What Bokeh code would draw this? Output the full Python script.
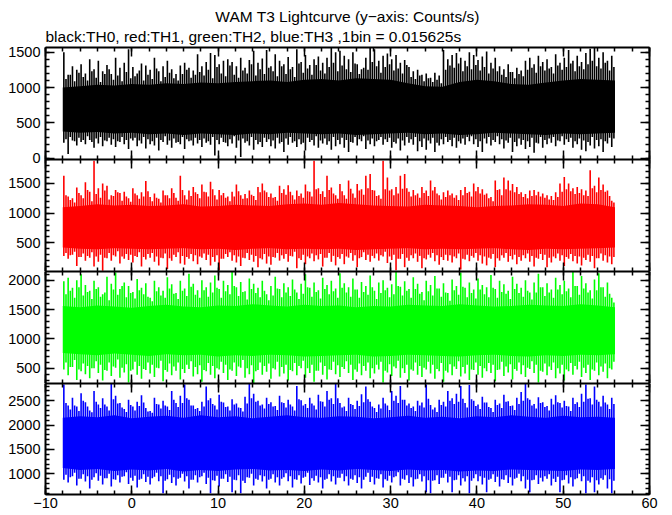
import numpy as np
from bokeh.plotting import figure
from bokeh.layouts import column
from bokeh.models import Range1d, LinearAxis, SingleIntervalTicker, Title, ColumnDataSource
from bokeh.embed import file_html
from bokeh.resources import INLINE

# ---------------- data ----------------
t_first = -8.0          # first bin time (s)
spike_step = 0.5        # extremes read every 0.5 s (two readings per step)
core_step = 2.0         # dense-band edges read every 2 s

x_tick_interval = 10
y_tick_interval = 500

panel_names = ["TH0", "TH1", "TH2", "TH3"]
panel_colors = ["#000000", "#ff0000", "#00ff00", "#0000ff"]
y_low = [-17, 17, 241, 576]
y_high = [1566, 1903, 2148, 2852]

# TH0 (black)
th0_hi = [1500, 1180, 1300, 1250, 1330, 1200, 1400, 1260, 1380, 1230, 1320, 1190, 1420, 1280, 1350, 1540,
          1290, 1200, 1340, 1310, 1250, 1420, 1230, 1300, 1380, 1260, 1190, 1310, 1350, 1280, 1240, 1470,
          1300, 1360, 1490, 1460, 1330, 1380, 1400, 1360, 1300, 1420, 1280, 1390, 1520, 1350, 1410, 1530,
          1300, 1470, 1380, 1330, 1430, 1290, 1540, 1360, 1460, 1320, 1400, 1440, 1350, 1420, 1566, 1500,
          1520, 1450, 1400, 1500, 1330, 1260, 1420, 1566, 1540, 1380, 1450, 1480, 1400, 1460, 1350, 1390,
          1290, 1230, 1250, 1180, 1200, 1140, 1210, 1170, 1530, 1400, 1460, 1490, 1420, 1380, 1500, 1460,
          1390, 1440, 1510, 1350, 1420, 1300, 1260, 1330, 1220, 1280, 1240, 1380, 1420, 1330, 1450, 1360,
          1400, 1290, 1470, 1350, 1420, 1530, 1380, 1450, 1360, 1490, 1550, 1566, 1420, 1500, 1380, 1450]
th0_hi_mid = [1120, 1180, 1090, 1210, 1150, 1100, 1230, 1140, 1080, 1190, 1260, 1110, 1170, 1090, 1220, 1130,
              1160, 1240, 1100, 1180, 1120, 1270, 1090, 1150, 1210, 1130, 1100, 1190, 1250, 1140, 1180, 1220,
              1170, 1250, 1130, 1290, 1200, 1160, 1310, 1180, 1140, 1240, 1200, 1330, 1170, 1260, 1190, 1280,
              1230, 1160, 1300, 1190, 1260, 1150, 1340, 1210, 1270, 1180, 1320, 1240, 1200, 1290, 1350, 1230,
              1310, 1260, 1220, 1340, 1190, 1280, 1250, 1360, 1300, 1210, 1290, 1330, 1240, 1270, 1200, 1320,
              1150, 1120, 1170, 1090, 1130, 1080, 1110, 1060, 1250, 1310, 1280, 1340, 1230, 1300, 1260, 1320,
              1240, 1290, 1200, 1270, 1230, 1180, 1150, 1220, 1130, 1190, 1160, 1250, 1280, 1210, 1300, 1240,
              1270, 1200, 1310, 1250, 1290, 1340, 1230, 1300, 1260, 1330, 1380, 1300, 1270, 1350, 1240, 1290]
th0_lo = [220, 60, 250, 180, 230, 200, 260, 150, 210, 170, 240, 190, 160, 230, 200, 130,
          250, 170, 210, 140, 200, 180, 110, 230, 190, 150, 220, 200, 130, 240, 180, 210,
          160, 220, 190, 40, 200, 230, 170, 210, 150, 20, 220, 180, 120, 200, 160, 230,
          170, 140, 210, 90, 190, 220, 160, 200, 110, 230, 180, 150, 210, 190, 120, 170,
          200, 150, 90, 220, 180, 240, 130, 200, 170, 260, 190, 230, 150, 210, 110, 180,
          220, 190, 100, 160, 120, 210, 90, 180, 200, 230, 170, 150, 210, 190, 240, 200,
          160, 90, 210, 180, 230, 200, 140, 220, 90, 170, 190, 130, 160, 80, 210, 150,
          200, 220, 170, 240, 190, 230, 150, 200, 120, 100, 180, 140, 170, 90, 210, 160]
th0_lo_mid = [270, 300, 240, 290, 260, 310, 230, 280, 300, 250, 290, 270, 240, 300, 260, 280,
              290, 250, 300, 270, 240, 290, 260, 310, 250, 280, 230, 300, 270, 250, 290, 260,
              280, 240, 300, 260, 290, 220, 270, 310, 250, 280, 240, 300, 260, 230, 290, 270,
              250, 290, 230, 280, 300, 240, 270, 220, 290, 260, 310, 250, 280, 240, 300, 260,
              290, 260, 230, 300, 270, 310, 250, 280, 240, 300, 270, 290, 230, 280, 250, 300,
              270, 300, 240, 280, 250, 290, 220, 270, 300, 260, 290, 240, 280, 300, 310, 270,
              240, 280, 300, 260, 310, 270, 250, 290, 230, 280, 260, 240, 290, 220, 300, 260,
              280, 300, 250, 310, 270, 290, 240, 280, 250, 230, 300, 260, 270, 240, 290, 280]
th0_core_hi = [1000, 1020, 1040, 1030, 1050, 1040, 1060, 1050, 1070, 1060, 1080, 1090, 1100, 1080, 1110, 1120,
               1100, 1130, 1120, 1110, 1060, 1020, 1010, 1080, 1110, 1090, 1050, 1040, 1070, 1100, 1120, 1110, 1100]
th0_core_lo = [380, 360, 370, 350, 360, 340, 350, 330, 350, 340, 330, 350, 340, 360, 350, 340,
               350, 330, 340, 350, 360, 340, 350, 330, 340, 360, 350, 340, 330, 350, 340, 350, 360]

# TH1 (red)
th1_hi = [1630, 1280, 1250, 1430, 1300, 1520, 1360, 1880, 1420, 1500, 1460, 1300, 1390, 1340, 1360, 1250,
          1420, 1300, 1350, 1540, 1270, 1330, 1240, 1380, 1300, 1420, 1260, 1630, 1300, 1380, 1440, 1320,
          1480, 1350, 1530, 1300, 1390, 1340, 1280, 1360, 1480, 1300, 1320, 1380, 1290, 1440, 1500, 1350,
          1330, 1270, 1460, 1400, 1470, 1300, 1380, 1330, 1480, 1360, 1880, 1420, 1370, 1630, 1430, 1300,
          1490, 1300, 1550, 1330, 1490, 1400, 1630, 1660, 1380, 1300, 1880, 1600, 1400, 1440, 1630, 1660,
          1360, 1390, 1330, 1440, 1380, 1550, 1440, 1300, 1350, 1380, 1330, 1300, 1390, 1440, 1360, 1500,
          1440, 1400, 1330, 1270, 1550, 1400, 1600, 1550, 1490, 1440, 1350, 1320, 1380, 1390, 1360, 1330,
          1300, 1290, 1350, 1500, 1610, 1500, 1420, 1440, 1400, 1380, 1720, 1460, 1600, 1480, 1380, 1210]
th1_hi_mid = [1300, 1220, 1180, 1340, 1250, 1390, 1200, 1320, 1260, 1380, 1230, 1290, 1350, 1210, 1280, 1190,
              1330, 1240, 1280, 1370, 1200, 1260, 1180, 1300, 1250, 1340, 1210, 1390, 1230, 1290, 1350, 1250,
              1360, 1280, 1400, 1230, 1300, 1260, 1200, 1280, 1370, 1240, 1250, 1310, 1220, 1350, 1380, 1270,
              1260, 1210, 1340, 1310, 1360, 1230, 1290, 1260, 1370, 1280, 1400, 1320, 1270, 1390, 1330, 1240,
              1370, 1240, 1410, 1260, 1380, 1310, 1420, 1390, 1290, 1240, 1400, 1380, 1300, 1330, 1410, 1420,
              1280, 1300, 1260, 1340, 1290, 1380, 1330, 1230, 1270, 1300, 1260, 1220, 1300, 1340, 1280, 1370,
              1330, 1310, 1250, 1200, 1390, 1300, 1400, 1380, 1350, 1320, 1270, 1250, 1290, 1300, 1280, 1260,
              1230, 1220, 1270, 1360, 1400, 1370, 1320, 1340, 1300, 1290, 1420, 1350, 1390, 1360, 1290, 1180]
th1_lo = [280, 230, 300, 110, 260, 200, 250, 100, 180, 30, 240, 200, 270, 150, 230, 210,
          170, 260, 100, 220, 250, 180, 120, 240, 60, 200, 260, 150, 130, 230, 190, 140,
          250, 210, 120, 180, 40, 230, 260, 200, 170, 110, 240, 210, 180, 90, 220, 150,
          130, 250, 200, 230, 180, 270, 70, 210, 140, 240, 190, 220, 100, 250, 180, 120,
          230, 140, 250, 200, 90, 260, 210, 180, 240, 200, 270, 160, 210, 40, 230, 90,
          200, 240, 180, 70, 220, 250, 190, 130, 210, 200, 170, 240, 50, 220, 190, 250,
          200, 150, 120, 230, 90, 200, 250, 180, 220, 140, 200, 240, 180, 100, 230, 210,
          90, 170, 240, 200, 110, 230, 190, 150, 120, 210, 180, 70, 240, 200, 170, 140]
th1_lo_mid = [330, 290, 350, 260, 320, 280, 340, 270, 300, 250, 330, 290, 360, 270, 310, 300,
              280, 340, 260, 310, 330, 270, 250, 320, 240, 300, 340, 280, 260, 310, 290, 270,
              320, 300, 260, 290, 230, 310, 340, 290, 270, 250, 330, 300, 280, 240, 310, 270,
              260, 330, 290, 310, 280, 350, 240, 300, 270, 320, 290, 310, 250, 330, 280, 260,
              310, 270, 330, 290, 240, 340, 300, 280, 320, 290, 350, 270, 300, 230, 310, 250,
              290, 320, 280, 240, 300, 330, 290, 260, 300, 290, 270, 320, 230, 300, 280, 330,
              290, 270, 250, 310, 240, 290, 330, 280, 300, 260, 290, 320, 280, 250, 310, 300,
              250, 270, 320, 290, 260, 310, 280, 270, 250, 300, 280, 240, 320, 290, 270, 260]
th1_core_hi = [1100, 1120, 1150, 1130, 1140, 1120, 1130, 1150, 1110, 1120, 1140, 1130, 1120, 1150, 1160, 1140,
               1170, 1150, 1130, 1120, 1110, 1140, 1130, 1120, 1100, 1120, 1130, 1150, 1140, 1120, 1160, 1150, 1100]
th1_core_lo = [420, 400, 390, 410, 400, 390, 400, 410, 390, 400, 380, 400, 410, 390, 400, 390,
               400, 380, 390, 400, 410, 390, 400, 390, 400, 410, 390, 380, 400, 390, 400, 410, 420]

# TH2 (green)
th2_hi = [1980, 2040, 1870, 2000, 2100, 1920, 1820, 1990, 1880, 1760, 2060, 1940, 2130, 1850, 1960, 1900,
          1800, 2020, 1870, 1950, 1700, 1990, 1880, 1820, 2050, 1930, 1780, 1990, 1860, 2110, 1940, 1830,
          2000, 1880, 1960, 2080, 1850, 1990, 1920, 2140, 1880, 1970, 1810, 2030, 1940, 1870, 1990, 1760,
          1900, 2060, 1850, 1950, 1880, 2010, 1790, 1940, 2100, 1870, 1960, 1830, 2040, 1920, 1990, 1860,
          2120, 1950, 1880, 2030, 1840, 1970, 1900, 2080, 1820, 1960, 2000, 1870, 1930, 2140, 1890, 1980,
          1850, 2050, 1940, 1800, 1990, 1920, 2070, 1860, 1950, 1780, 2010, 1900, 2130, 1870, 1960, 1840,
          2030, 1920, 1880, 2090, 1850, 1990, 1930, 1820, 2060, 1940, 1870, 2000, 1790, 1960, 2110, 1880,
          1950, 1840, 2040, 1920, 1990, 1860, 2140, 1900, 2070, 1950, 1830, 2010, 2120, 1880, 1960, 1700]
th2_hi_mid = [1760, 1820, 1700, 1880, 1740, 1800, 1680, 1850, 1720, 1790, 1660, 1840, 1750, 1900, 1710, 1780,
              1690, 1830, 1760, 1720, 1640, 1810, 1740, 1700, 1860, 1770, 1680, 1820, 1730, 1890, 1750, 1700,
              1830, 1720, 1790, 1870, 1700, 1810, 1760, 1900, 1730, 1800, 1670, 1850, 1780, 1710, 1820, 1660,
              1740, 1860, 1710, 1790, 1730, 1840, 1680, 1770, 1880, 1720, 1800, 1690, 1850, 1760, 1810, 1700,
              1870, 1790, 1720, 1840, 1700, 1800, 1750, 1880, 1680, 1780, 1830, 1710, 1760, 1900, 1740, 1820,
              1700, 1850, 1770, 1660, 1810, 1740, 1860, 1720, 1790, 1650, 1830, 1750, 1890, 1710, 1780, 1690,
              1840, 1760, 1710, 1870, 1700, 1800, 1770, 1680, 1850, 1780, 1720, 1820, 1670, 1790, 1880, 1730,
              1790, 1700, 1840, 1760, 1810, 1710, 1900, 1750, 1860, 1790, 1690, 1830, 1880, 1720, 1770, 1620]
th2_lo = [480, 380, 520, 300, 450, 400, 330, 500, 420, 290, 460, 370, 510, 340, 430, 260,
          480, 390, 320, 470, 410, 350, 500, 280, 440, 380, 460, 310, 420, 490, 360, 400,
          270, 450, 390, 330, 480, 420, 300, 460, 370, 510, 340, 400, 250, 470, 390, 440,
          320, 480, 360, 410, 290, 450, 380, 500, 340, 420, 270, 460, 390, 310, 470, 400,
          350, 490, 420, 300, 440, 380, 460, 330, 410, 480, 260, 430, 370, 500, 340, 420,
          290, 460, 390, 350, 480, 410, 320, 450, 270, 430, 380, 490, 360, 410, 300, 470,
          390, 340, 450, 420, 280, 480, 370, 430, 310, 460, 400, 350, 490, 420, 260, 440,
          380, 470, 330, 410, 290, 450, 390, 480, 350, 420, 300, 460, 380, 440, 330, 480]
th2_lo_mid = [600, 520, 640, 480, 580, 540, 500, 620, 560, 470, 600, 530, 650, 510, 570, 460,
              610, 540, 490, 600, 560, 510, 630, 470, 580, 530, 600, 490, 560, 620, 520, 550,
              470, 590, 540, 500, 610, 560, 480, 600, 530, 640, 500, 550, 450, 600, 540, 580,
              500, 610, 520, 560, 470, 590, 540, 630, 500, 560, 460, 600, 540, 480, 610, 550,
              520, 620, 560, 480, 580, 540, 600, 500, 560, 610, 460, 570, 530, 630, 500, 560,
              480, 600, 540, 510, 610, 560, 490, 590, 460, 570, 530, 620, 520, 560, 480, 600,
              540, 500, 590, 560, 470, 610, 530, 570, 490, 600, 550, 510, 620, 560, 460, 580,
              530, 600, 500, 560, 480, 590, 540, 610, 510, 560, 480, 600, 530, 580, 500, 610]
th2_core_hi = [1560, 1540, 1570, 1550, 1530, 1560, 1580, 1550, 1540, 1570, 1560, 1590, 1570, 1550, 1580, 1560,
               1570, 1540, 1560, 1550, 1580, 1570, 1560, 1590, 1570, 1550, 1560, 1580, 1570, 1560, 1590, 1570, 1540]
th2_core_lo = [760, 740, 720, 750, 730, 710, 740, 720, 730, 700, 720, 710, 730, 720, 700, 710,
               720, 730, 700, 710, 730, 720, 710, 700, 720, 730, 710, 700, 720, 710, 730, 720, 740]

# TH3 (blue)
th3_hi = [2830, 2400, 2560, 2380, 2650, 2470, 2300, 2700, 2420, 2550, 2380, 2840, 2600, 2450, 2330, 2520,
          2380, 2480, 2610, 2350, 2290, 2560, 2420, 2500, 2380, 2700, 2450, 2600, 2830, 2520, 2400, 2350,
          2480, 2790, 2550, 2400, 2620, 2460, 2380, 2530, 2440, 2350, 2580, 2840, 2640, 2500, 2420, 2560,
          2470, 2390, 2600, 2450, 2520, 2380, 2800, 2510, 2430, 2560, 2400, 2620, 2480, 2700, 2550, 2840,
          2450, 2380, 2560, 2410, 2500, 2630, 2790, 2480, 2350, 2420, 2560, 2400, 2700, 2600, 2800, 2520,
          2440, 2380, 2500, 2460, 2830, 2410, 2360, 2520, 2480, 2700, 2550, 2640, 2800, 2450, 2820, 2500,
          2420, 2580, 2460, 2350, 2520, 2440, 2620, 2490, 2400, 2560, 2680, 2840, 2520, 2430, 2570, 2470,
          2390, 2540, 2610, 2450, 2500, 2380, 2560, 2470, 2640, 2830, 2550, 2790, 2480, 2600, 2420, 2560]
th3_hi_mid = [2450, 2320, 2400, 2290, 2500, 2380, 2260, 2480, 2350, 2420, 2300, 2530, 2440, 2360, 2270, 2410,
              2300, 2390, 2460, 2280, 2250, 2430, 2340, 2400, 2310, 2520, 2370, 2450, 2550, 2400, 2330, 2290,
              2380, 2510, 2430, 2320, 2480, 2370, 2300, 2420, 2360, 2280, 2440, 2550, 2480, 2400, 2340, 2430,
              2380, 2310, 2470, 2360, 2420, 2300, 2530, 2400, 2350, 2440, 2320, 2490, 2380, 2520, 2430, 2550,
              2360, 2290, 2430, 2330, 2390, 2470, 2530, 2380, 2270, 2340, 2440, 2310, 2500, 2450, 2520, 2400,
              2350, 2290, 2400, 2360, 2540, 2320, 2270, 2410, 2380, 2500, 2430, 2480, 2540, 2360, 2530, 2390,
              2330, 2460, 2370, 2270, 2410, 2350, 2480, 2390, 2310, 2430, 2500, 2550, 2400, 2340, 2450, 2370,
              2300, 2420, 2470, 2360, 2390, 2290, 2430, 2370, 2480, 2540, 2420, 2520, 2380, 2460, 2330, 2430]
th3_lo = [880, 820, 950, 760, 900, 840, 700, 930, 860, 780, 910, 740, 880, 820, 950, 790,
          860, 720, 900, 830, 780, 940, 850, 600, 890, 810, 760, 920, 840, 700, 880, 820,
          950, 790, 600, 860, 740, 900, 830, 620, 870, 600, 810, 920, 760, 880, 840, 700,
          900, 820, 760, 930, 850, 720, 880, 800, 940, 770, 860, 820, 700, 900, 840, 780,
          920, 850, 760, 880, 810, 700, 940, 830, 780, 900, 720, 860, 820, 950, 760, 880,
          810, 740, 900, 840, 620, 600, 870, 790, 920, 820, 620, 880, 760, 840, 600, 910,
          850, 780, 620, 900, 830, 740, 880, 810, 760, 920, 850, 700, 620, 880, 790, 840,
          900, 760, 830, 620, 880, 800, 740, 910, 850, 600, 820, 620, 780, 880, 700, 600]
th3_lo_mid = [980, 930, 1020, 900, 990, 950, 880, 1010, 960, 910, 1000, 890, 970, 940, 1030, 920,
              960, 880, 990, 940, 910, 1020, 950, 860, 980, 930, 900, 1000, 950, 880, 970, 930,
              1020, 920, 870, 960, 900, 990, 940, 880, 970, 860, 930, 1000, 900, 970, 950, 880,
              990, 930, 900, 1010, 950, 890, 970, 920, 1020, 910, 960, 930, 880, 990, 950, 920,
              1000, 950, 900, 970, 930, 880, 1020, 940, 910, 990, 890, 960, 930, 1030, 900, 970,
              930, 890, 990, 950, 870, 860, 970, 920, 1000, 940, 870, 970, 910, 950, 860, 990,
              950, 920, 880, 990, 940, 890, 970, 930, 900, 1000, 950, 880, 870, 970, 920, 950,
              990, 900, 940, 870, 970, 930, 890, 1000, 950, 860, 930, 870, 910, 970, 890, 860]
th3_core_hi = [2150, 2180, 2160, 2200, 2140, 2170, 2190, 2150, 2200, 2160, 2180, 2140, 2170, 2200, 2160, 2150,
               2180, 2170, 2140, 2160, 2190, 2150, 2170, 2140, 2180, 2160, 2200, 2170, 2150, 2190, 2160, 2170, 2150]
th3_core_lo = [1120, 1080, 1100, 1060, 1090, 1070, 1100, 1050, 1080, 1060, 1090, 1100, 1070, 1080, 1060, 1090,
               1070, 1100, 1080, 1060, 1090, 1070, 1080, 1050, 1070, 1060, 1090, 1080, 1070, 1060, 1090, 1080, 1100]

series_hi = [th0_hi, th1_hi, th2_hi, th3_hi]
series_lo = [th0_lo, th1_lo, th2_lo, th3_lo]
series_hi_mid = [th0_hi_mid, th1_hi_mid, th2_hi_mid, th3_hi_mid]
series_lo_mid = [th0_lo_mid, th1_lo_mid, th2_lo_mid, th3_lo_mid]
core_hi = [th0_core_hi, th1_core_hi, th2_core_hi, th3_core_hi]
core_lo = [th0_core_lo, th1_core_lo, th2_core_lo, th3_core_lo]

title_text = "WAM T3 Lightcurve (y\u2212axis: Counts/s)"
subtitle_text = "black:TH0, red:TH1, green:TH2, blue:TH3 ,1bin = 0.015625s"

# ---------------- layout ----------------
FONT = "Liberation Sans"
FW = 604
FH = [112, 112, 112, 111]
LEFT = 45
RIGHT = 15
TOP = 47
OVER = 8   # room under panel 1 for its "0" label, overlapped by panel 2

spike_t = t_first + spike_step / 4 + spike_step * np.arange(len(th0_hi))
spike_t_mid = spike_t + spike_step / 2
core_t = t_first + core_step * np.arange(len(th0_core_hi))

x_range = Range1d(-10, 60)


def style_axis(ax, labels):
    ax.axis_line_width = 2
    ax.axis_line_color = "black"
    ax.major_tick_in = 9
    ax.major_tick_out = 0
    ax.minor_tick_in = 4
    ax.minor_tick_out = 0
    ax.major_tick_line_width = 1.5
    ax.minor_tick_line_width = 1.5
    ax.major_tick_line_color = "black"
    ax.minor_tick_line_color = "black"
    if labels:
        ax.major_label_text_font = FONT
        ax.major_label_text_font_size = "14.5px"
        ax.major_label_text_color = "black"
    else:
        ax.major_label_text_color = None
        ax.major_label_text_font_size = "1px"
        ax.major_label_standoff = 0


figs = []
for k in range(4):
    top = TOP if k == 0 else 0
    if k == 0:
        bottom = OVER
    elif k == 3:
        bottom = 19
    else:
        bottom = 0
    p = figure(frame_width=FW, frame_height=FH[k], x_range=x_range,
               y_range=Range1d(y_low[k], y_high[k]),
               x_axis_type=None, y_axis_type=None,
               output_backend="svg", toolbar_location=None,
               min_border_left=LEFT, min_border_right=RIGHT,
               min_border_top=top, min_border_bottom=bottom)
    p.outline_line_color = None
    p.background_fill_color = "white"
    if k == 1:
        p.border_fill_color = None
        p.margin = (-OVER, 0, 0, 0)
    else:
        p.border_fill_color = "white"

    col = panel_colors[k]
    p.varea(x=core_t, y1=core_lo[k], y2=core_hi[k], fill_color=col, fill_alpha=1.0)
    src = ColumnDataSource(dict(t=spike_t, lo=series_lo[k], hi=series_hi[k]))
    p.segment(x0="t", y0="lo", x1="t", y1="hi", source=src, line_color=col, line_width=1.6)
    src2 = ColumnDataSource(dict(t=spike_t_mid, lo=series_lo_mid[k], hi=series_hi_mid[k]))
    p.segment(x0="t", y0="lo", x1="t", y1="hi", source=src2, line_color=col, line_width=1.6)

    xt = SingleIntervalTicker(interval=x_tick_interval, num_minor_ticks=5)
    yt = SingleIntervalTicker(interval=y_tick_interval, num_minor_ticks=5)

    ax_left = LinearAxis(ticker=yt)
    style_axis(ax_left, True)
    ax_left.major_label_standoff = 5
    p.add_layout(ax_left, "left")

    ax_right = LinearAxis(ticker=yt)
    style_axis(ax_right, False)
    p.add_layout(ax_right, "right")

    ax_top = LinearAxis(ticker=xt)
    style_axis(ax_top, False)
    p.add_layout(ax_top, "above")

    ax_bot = LinearAxis(ticker=xt)
    style_axis(ax_bot, k == 3)
    if k == 3:
        ax_bot.major_label_standoff = 3
    p.add_layout(ax_bot, "below")

    if k == 0:
        sub = Title(text=subtitle_text, align="left", text_font=FONT,
                    text_font_size="15.5px", text_font_style="normal",
                    text_color="black", standoff=6)
        p.add_layout(sub, "above")
        main = Title(text=title_text, align="center", text_font=FONT,
                     text_font_size="15.5px", text_font_style="normal",
                     text_color="black", standoff=-4)
        p.add_layout(main, "above")

    figs.append(p)

layout = column(*figs, spacing=0)
open("out.html", "w").write(file_html(layout, INLINE))
